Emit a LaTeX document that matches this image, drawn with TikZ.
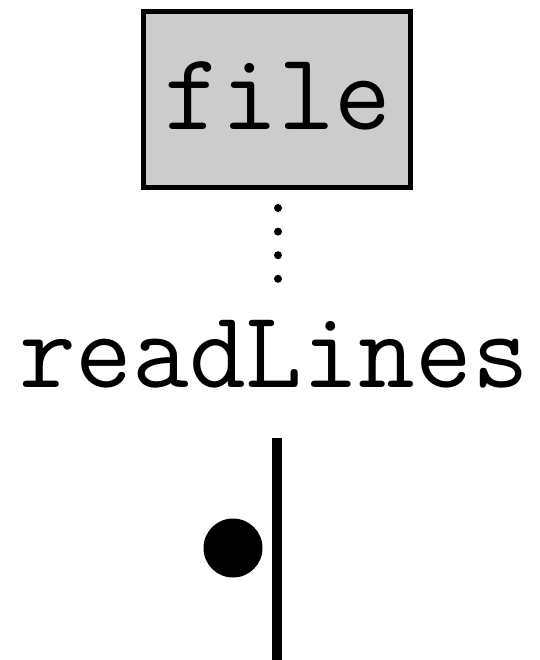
\documentclass[tikz,border=0pt]{standalone}
\usepackage{fontspec}
\begin{document}
\begin{tikzpicture}[x=1pt,y=-1pt,
  codetext/.style={font=\fontsize{110}{112}\selectfont\ttfamily, inner sep=0pt, anchor=base},
  filebox/.style={draw, line width=5pt, fill=black!20, minimum width=267pt, minimum height=176pt, inner sep=0pt},
  dotlink/.style={line width=8pt, line cap=round, dash pattern=on 0pt off 23.6pt},
  bar/.style={line width=10pt}
]
\useasboundingbox (0,0) rectangle (539,660);
% source box with its label
\node[filebox] (box) at (277,99.5) {};
\node[codetext] (file) at (278,130) {file};
% function name
\node[codetext] (fn) at (274,387) {readLines};
% dotted link from the box down to the function name
\coordinate (d1) at (278,208);
\coordinate (d2) at (278,279.5);
\draw[dotlink] (d1) -- (d2);
% vertical bar with its marker
\coordinate (b1) at (277,438);
\coordinate (b2) at (277,660);
\draw[bar] (b1) -- (b2);
\fill (233,548) circle (29.5);
\end{tikzpicture}
\end{document}
